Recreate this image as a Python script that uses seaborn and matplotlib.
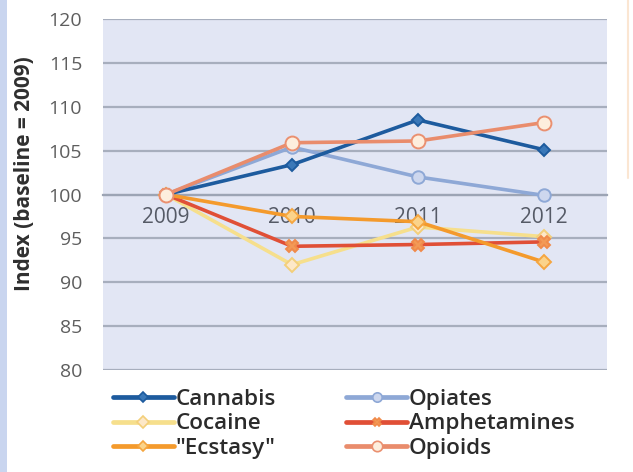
import matplotlib
matplotlib.use("Agg")
import matplotlib.pyplot as plt
from matplotlib.lines import Line2D
from matplotlib.patches import Rectangle
import pandas as pd
import seaborn as sns

# Index values, 2009 = 100
years = ["2009", "2010", "2011", "2012"]
cannabis = [100.0, 103.4, 108.5, 105.1]
opiates = [100.0, 105.4, 102.0, 99.9]
cocaine = [100.0, 92.0, 96.3, 95.2]
amphetamines = [100.0, 94.1, 94.3, 94.6]
ecstasy = [100.0, 97.5, 96.9, 92.3]
opioids = [100.0, 105.9, 106.1, 108.2]

series_names = ["Cannabis", "Opiates", "Cocaine", "Amphetamines", "\"Ecstasy\"", "Opioids"]
series_values = [cannabis, opiates, cocaine, amphetamines, ecstasy, opioids]

# line colour, marker, marker face, marker edge, marker size
styles = {
    "Cannabis": ("#1d5b9e", "D", "#3a78b8", "#1d5b9e", 6.5),
    "Opiates": ("#8ea8d6", "o", "#cdd7ee", "#8ea8d6", 9),
    "Cocaine": ("#f6df8c", "D", "#fde8c8", "#f3cf7a", 7.5),
    "Amphetamines": ("#e04f36", "X", "#f39a56", "#f08a4a", 8),
    "\"Ecstasy\"": ("#f49a2c", "D", "#fbd38a", "#f5a640", 7),
    "Opioids": ("#e98c6c", "o", "#fdeedd", "#ea9070", 10),
}
draw_order = ["Opiates", "Cocaine", "Amphetamines", "\"Ecstasy\"", "Cannabis", "Opioids"]

df = pd.DataFrame(
    [(n, y, v) for n, vals in zip(series_names, series_values) for y, v in zip(years, vals)],
    columns=["series", "year", "index"],
)

sns.set_theme(style="white")
plt.rcParams["font.family"] = ["Open Sans", "DejaVu Sans"]

fig = plt.figure(figsize=(6.33, 4.72), dpi=100)
fig.patch.set_facecolor("white")
ax = fig.add_axes([103 / 633, 1 - 370 / 472, 504 / 633, 351 / 472])
ax.set_facecolor("#e2e6f4")

# page decorations: blue band on the left, faint rule on the right
fig.add_artist(Rectangle((0, 0), 7 / 633, 1, transform=fig.transFigure,
                         facecolor="#c9d5ef", edgecolor="none", zorder=0))
fig.add_artist(Line2D([628 / 633, 628 / 633], [1, 1 - 178 / 472], transform=fig.transFigure,
                      color="#fbe6d2", lw=1.5))

handles = {}
for z, name in enumerate(draw_order):
    col, mk, mfc, mec, ms = styles[name]
    sub = df[df["series"] == name]
    sns.lineplot(data=sub, x="year", y="index", ax=ax, color=col, lw=2.6,
                 marker=mk, markersize=ms, markerfacecolor=mfc, markeredgecolor=mec,
                 markeredgewidth=1.4, zorder=3 + z, legend=False)
    handles[name] = Line2D([], [], color=col, lw=3.4, marker=mk, markersize=ms * 0.75,
                           markerfacecolor=mfc, markeredgecolor=mec, markeredgewidth=1.2)

ax.set_xlim(-0.5, 3.5)
ax.set_ylim(80, 120)
ax.set_yticks(range(80, 121, 5))
ax.grid(axis="y", color="#a7aebd", lw=1.6)
ax.grid(axis="x", visible=False)
ax.set_axisbelow(True)

for s in ["top", "right", "left"]:
    ax.spines[s].set_visible(False)
ax.spines["bottom"].set_position(("data", 100))
ax.spines["bottom"].set_color("#9ca4b4")
ax.spines["bottom"].set_linewidth(1.6)
ax.spines["bottom"].set_zorder(2)

ax.set_xticks([0, 1, 2, 3])
ax.set_xticklabels(years)
ax.set_xticks([-0.5, 0.5, 1.5, 2.5, 3.5], minor=True)
ax.tick_params(axis="x", which="major", length=0, pad=9, labelsize=15, labelcolor="#555a66")
ax.tick_params(axis="x", which="minor", direction="in", length=5, width=1.2, color="#9ca4b4")
ax.tick_params(axis="y", length=0, pad=15, labelsize=14, labelcolor="#5e5e5e")

ax.set_xlabel("")
ax.set_ylabel("Index (baseline = 2009)", fontsize=15, fontweight="bold", color="#2f2f2f")
ax.yaxis.set_label_coords(-0.135, 0.56)

legend_order = ["Cannabis", "Cocaine", "\"Ecstasy\"", "Opiates", "Amphetamines", "Opioids"]
leg = fig.legend([handles[n] for n in legend_order], legend_order, ncol=2,
                 loc="upper left", bbox_to_anchor=(104 / 633, 1 - 380 / 472),
                 frameon=False, handlelength=2.7, handletextpad=0.1,
                 columnspacing=3.1, labelspacing=0.15, borderaxespad=0, numpoints=1,
                 prop={"weight": "semibold", "size": 16.2})
for t in leg.get_texts():
    t.set_color("#2b2b2b")

fig.savefig("out.png", dpi=100)
